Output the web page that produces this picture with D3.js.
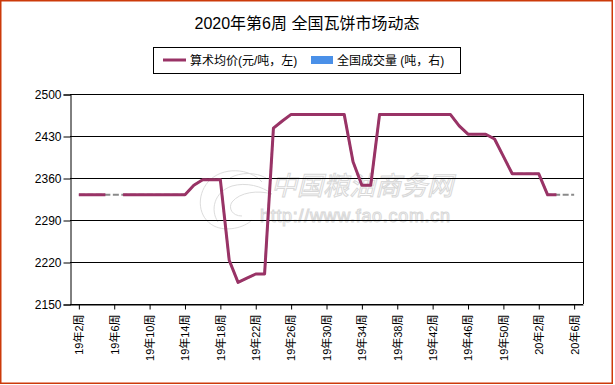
<!DOCTYPE html>
<html>
<head>
<meta charset="utf-8">
<script src="https://cdn.jsdelivr.net/npm/d3@7"></script>
<style>
  html, body { margin: 0; padding: 0; background: #fff; }
  svg { display: block; }
  text { font-family: "Liberation Sans", Arial, "Noto Sans CJK SC", sans-serif; }
</style>
</head>
<body>
<svg id="chart" width="615" height="385"></svg>
<script>
// ---------------- data ----------------
const title = "2020年第6周 全国瓦饼市场动态";
const categories = [
  "19年2周","19年3周","19年4周","19年5周","19年6周","19年7周","19年8周","19年9周","19年10周",
  "19年11周","19年12周","19年13周","19年14周","19年15周","19年16周","19年17周","19年18周",
  "19年19周","19年20周","19年21周","19年22周","19年23周","19年24周","19年25周","19年26周",
  "19年27周","19年28周","19年29周","19年30周","19年31周","19年32周","19年33周","19年34周",
  "19年35周","19年36周","19年37周","19年38周","19年39周","19年40周","19年41周","19年42周",
  "19年43周","19年44周","19年45周","19年46周","19年47周","19年48周","19年49周","19年50周",
  "19年51周","19年52周","20年1周","20年2周","20年3周","20年4周","20年5周","20年6周"
];
const avgPrice = [
  2332, 2332, 2332, 2332, null, 2332, 2332, 2332, 2332,
  2332, 2332, 2332, 2332, 2348, 2357, 2357, 2357,
  2223, 2186, 2193, 2200, 2200, 2443, 2455, 2466,
  2466, 2466, 2466, 2466, 2466, 2466, 2387, 2348,
  2348, 2466, 2466, 2466, 2466, 2466, 2466, 2466,
  2466, 2466, 2447, 2433, 2433, 2433, 2425, 2396,
  2367, 2367, 2367, 2367, 2332, 2332, null, 2332
];
const xTickLabels = ["19年2周","19年6周","19年10周","19年14周","19年18周","19年22周","19年26周",
  "19年30周","19年34周","19年38周","19年42周","19年46周","19年50周","20年2周","20年6周"];
const yTicks = [2150, 2220, 2290, 2360, 2430, 2500];
const legendItems = ["算术均价(元/吨，左)", "全国成交量 (吨，右)"];

// ---------------- drawing ----------------
const svg = d3.select("#chart");
const W = 615, H = 385;
const plot = { left: 70, right: 583, top: 94, bottom: 304 };

const x = d3.scalePoint().domain(categories).range([plot.left, plot.right]).padding(1);
const y = d3.scaleLinear().domain([2150, 2500]).range([plot.bottom, plot.top]);

svg.append("rect").attr("x", 0).attr("y", 0).attr("width", W).attr("height", H).attr("fill", "#fff");

// watermark
const wm = svg.append("g").attr("fill", "none").attr("stroke", "#dcdcdc").attr("stroke-width", 1);
wm.append("path").attr("d", "M262,182 C250,168 222,166 208,182 C196,196 198,218 214,226 C226,232 244,228 252,220");
wm.append("path").attr("d", "M218,222 C210,210 214,192 232,186 C246,182 262,186 272,194 C258,190 240,192 232,202 C228,208 232,216 242,216");
wm.append("path").attr("d", "M230,178 C240,172 256,172 266,178");
svg.append("text").attr("x", 271).attr("y", 195)
  .attr("font-family", "'Noto Sans CJK SC', sans-serif").attr("font-size", 26).attr("font-style", "italic")
  .attr("textLength", 182).attr("fill", "#fff").attr("stroke", "#d8d8d8").attr("stroke-width", 1)
  .text("中国粮油商务网");
svg.append("text").attr("x", 260).attr("y", 222)
  .attr("font-size", 18).attr("textLength", 190)
  .attr("fill", "#fff").attr("stroke", "#d8d8d8").attr("stroke-width", 1)
  .text("http://www.fao.com.cn");

// gridlines
svg.append("g").selectAll("line").data(yTicks).join("line")
  .attr("x1", plot.left).attr("x2", plot.right)
  .attr("y1", d => Math.round(y(d)) + 0.5).attr("y2", d => Math.round(y(d)) + 0.5)
  .attr("stroke", "#000").attr("stroke-width", 1);
// right border
svg.append("line").attr("x1", plot.right + 0.5).attr("x2", plot.right + 0.5)
  .attr("y1", plot.top).attr("y2", plot.bottom).attr("stroke", "#000");

// y axis
const yAxis = svg.append("g").attr("transform", `translate(${plot.left + 0.5},0.5)`)
  .call(d3.axisLeft(y).tickValues(yTicks).tickSize(7).tickPadding(2).tickFormat(d3.format("d")));
yAxis.select(".domain").attr("stroke", "#000");
yAxis.selectAll(".tick line").attr("stroke", "#000");
yAxis.selectAll("text").attr("font-size", 12).attr("fill", "#000");

// x axis
const xAxis = svg.append("g").attr("transform", `translate(0,${plot.bottom + 0.5})`)
  .call(d3.axisBottom(x).tickValues(xTickLabels).tickSize(5).tickSizeOuter(0));
xAxis.select(".domain").attr("stroke", "#000");
xAxis.selectAll(".tick line").attr("stroke", "#000");
xAxis.selectAll(".tick text")
  .attr("font-size", 11).attr("fill", "#000")
  .attr("text-anchor", "end")
  .attr("transform", "rotate(-90)")
  .attr("x", -10).attr("y", 0).attr("dy", "0.35em");

// data lines
const pts = categories.map((c, i) => ({ c, v: avgPrice[i] }));
const gapLine = d3.line().x(d => x(d.c)).y(d => y(d.v));
svg.append("path").datum(pts.filter(d => d.v != null))
  .attr("d", gapLine).attr("fill", "none")
  .attr("stroke", "#8a8a8a").attr("stroke-width", 2).attr("stroke-dasharray", "6,2.5");
const mainLine = d3.line().defined(d => d.v != null).x(d => x(d.c)).y(d => y(d.v));
svg.append("path").datum(pts)
  .attr("d", mainLine).attr("fill", "none")
  .attr("stroke", "#993366").attr("stroke-width", 3).attr("stroke-linejoin", "round");

// title
svg.append("text").attr("x", 307).attr("y", 29).attr("text-anchor", "middle")
  .attr("font-size", 16).attr("fill", "#000").text(title);

// legend
const lg = svg.append("g");
lg.append("rect").attr("x", 153.5).attr("y", 47.5).attr("width", 307).attr("height", 26)
  .attr("fill", "#fff").attr("stroke", "#000").attr("stroke-width", 1);
lg.append("line").attr("x1", 163).attr("x2", 186).attr("y1", 60).attr("y2", 60)
  .attr("stroke", "#993366").attr("stroke-width", 3);
lg.append("text").attr("x", 190).attr("y", 64.5).attr("font-size", 12).attr("fill", "#000").text(legendItems[0]);
lg.append("rect").attr("x", 311).attr("y", 56).attr("width", 22).attr("height", 8).attr("fill", "#4a90e8");
lg.append("text").attr("x", 337).attr("y", 64.5).attr("font-size", 12).attr("fill", "#000").text(legendItems[1]);

// outer frame
svg.append("rect").attr("x", 0.75).attr("y", 0.75).attr("width", 611.5).attr("height", 382.5)
  .attr("fill", "none").attr("stroke", "#cc3a0a").attr("stroke-width", 1.5);
</script>
</body>
</html>
